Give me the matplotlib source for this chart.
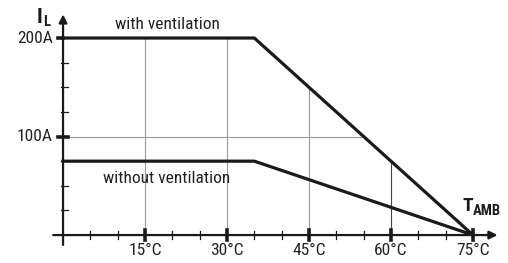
import numpy as np
import matplotlib
matplotlib.use("Agg")
import matplotlib.pyplot as plt
from matplotlib import font_manager

# pick a narrow Arial-like face, if one is installed
names = {f.name for f in font_manager.fontManager.ttflist}
narrow = [n for n in ['Liberation Sans Narrow', 'Arial Narrow', 'Roboto Condensed', 'Archivo Narrow']
          if n in names]
if narrow:
    plt.rcParams['font.family'] = [narrow[0], 'DejaVu Sans']
    fs_tick, fs_lab = 12.5, 12.5
else:
    plt.rcParams['font.family'] = ['Liberation Sans', 'DejaVu Sans']
    fs_tick, fs_lab = 11.5, 11.5

# derating curves
temp = [0, 35, 75]
with_vent = [200, 200, 0]
without_vent = [75, 75, 0]

x_major = [15, 30, 45, 60, 75]
x_labels = ['15°C', '30°C', '45°C', '60°C', '75°C']
x_minor = [5, 10, 20, 25, 35, 40, 50, 55, 65, 70]
y_major = [100, 200]
y_labels = ['100A', '200A']
y_minor = [25, 50, 75, 125, 150, 175]
grid_x = [15, 30, 45, 60]
grid_y = [100]

# pixel scale of the data (for tick lengths)
px_x = 5.467   # px per degC
px_y = 0.985   # px per A

fig = plt.figure(figsize=(5.08, 2.63), dpi=100)
ax = fig.add_axes([52.1 / 508, 18.1 / 263, 448.2 / 508, 231.5 / 263])
ax.set_xlim(-2, 80)
ax.set_ylim(-10, 225)
ax.axis('off')

# grid, clipped below the "with ventilation" curve
for gx in grid_x:
    top = np.interp(gx, temp, with_vent)
    col = '#444444' if gx == 60 else '#9a9a9a'
    ax.plot([gx, gx], [0, top], color=col, lw=0.8, zorder=1)
for gy in grid_y:
    right = np.interp(gy, with_vent[::-1], temp[::-1])
    ax.plot([0, right], [gy, gy], color='#9a9a9a', lw=0.8, zorder=1)

# curves
ax.plot(temp, with_vent, color='#1a1a1a', lw=2.3, solid_joinstyle='round', zorder=3)
ax.plot(temp, without_vent, color='#1a1a1a', lw=2.3, solid_joinstyle='round', zorder=3)

# axes with arrows
ax.annotate('', xy=(79.5, 0), xytext=(-1.8, 0),
            arrowprops=dict(arrowstyle='-|>', lw=1.6, color='#1a1a1a',
                            mutation_scale=12, shrinkA=0, shrinkB=0), zorder=4)
ax.annotate('', xy=(0, 224), xytext=(0, -10),
            arrowprops=dict(arrowstyle='-|>', lw=1.6, color='#1a1a1a',
                            mutation_scale=12, shrinkA=0, shrinkB=0), zorder=4)

# ticks
for tx in x_minor:
    ax.plot([tx, tx], [-4 / px_y, 4 / px_y], color='#1a1a1a', lw=0.9, zorder=4)
for tx in x_major:
    ax.plot([tx, tx], [-5 / px_y, 5 / px_y], color='#1a1a1a', lw=2.6, zorder=4)
for ty in y_minor:
    ax.plot([-2 / px_x, 5 / px_x], [ty, ty], color='#1a1a1a', lw=0.9, zorder=4)
for ty in y_major:
    ax.plot([-5 / px_x, 5 / px_x if ty == 100 else 0], [ty, ty],
            color='#1a1a1a', lw=2.6, zorder=4)

# tick labels
for tx, lab in zip(x_major, x_labels):
    ax.text(tx, -15.5, lab, ha='center', va='center', fontsize=fs_tick, color='#222222')
for ty, lab in zip(y_major, y_labels):
    ax.text(-1.9, ty, lab, ha='right', va='center', fontsize=fs_tick, color='#222222')

# curve labels
ax.text(9.5, 209, 'with ventilation', ha='left', va='baseline', fontsize=fs_lab, color='#222222')
ax.text(7.3, 52.5, 'without ventilation', ha='left', va='baseline', fontsize=fs_lab, color='#222222')

# axis names
ax.text(-4.8, 215, 'I', ha='left', va='baseline', fontsize=15, fontweight='bold', color='#1a1a1a')
ax.text(-3.6, 212, 'L', ha='left', va='baseline', fontsize=10.5, fontweight='bold', color='#1a1a1a')
ax.text(73.0, 24.5, 'T', ha='left', va='baseline', fontsize=14, fontweight='bold', color='#1a1a1a')
ax.text(74.9, 20.5, 'AMB', ha='left', va='baseline', fontsize=10.5, fontweight='bold', color='#1a1a1a')

fig.savefig('out.png', dpi=100)
